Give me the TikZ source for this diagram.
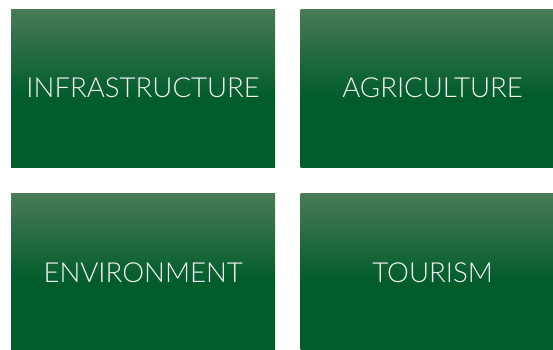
\documentclass[tikz,border=0pt]{standalone}
\usepackage{fontspec}
\setmainfont{Lato Light}
\usetikzlibrary{positioning}
\definecolor{boxtop}{HTML}{4A7A58}
\definecolor{boxbottom}{HTML}{005C2B}
\definecolor{boxtext}{HTML}{F4F4F4}
\pgfdeclareverticalshading{sectorgrad}{100bp}{color(0bp)=(boxbottom); color(47bp)=(boxbottom); color(75bp)=(boxtop); color(100bp)=(boxtop)}

\begin{document}
\begin{tikzpicture}[
    node distance = 26pt and 25pt,
    sector/.style={shade, shading=sectorgrad, text=boxtext, font=\fontsize{27.6}{32}\selectfont, minimum width=264pt, minimum height=158pt, inner sep=0pt},
    ]
\useasboundingbox (0,0) rectangle (553pt,-349pt);

\node[sector, anchor=north west] at (11pt,-9pt) (infra) {INFRASTRUCTURE};
\node[sector] [right=of infra] (agri) {AGRICULTURE};
\node[sector] [below=of infra] (env) {ENVIRONMENT};
\node[sector] [right=of env] (tour) {TOURISM};

\end{tikzpicture}
\end{document}
